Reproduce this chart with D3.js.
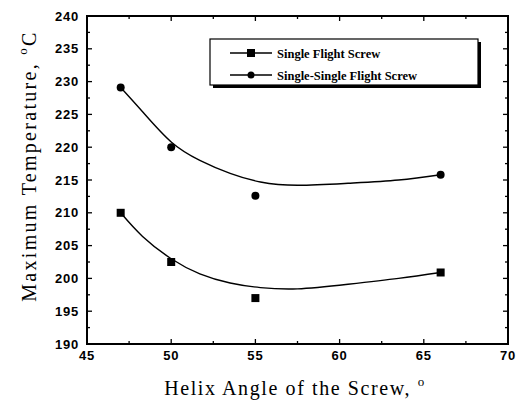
<!DOCTYPE html>
<meta charset="utf-8">
<style>
  body { margin: 0; background: #fff; }
  .tick-label { font-family: "Liberation Sans", Arial, sans-serif; font-weight: bold; font-size: 13px; letter-spacing: 0.8px; fill: #000; }
  .axis-title { font-family: "Liberation Serif", "Times New Roman", serif; font-size: 20px; fill: #000; }
  .legend-text { font-family: "Liberation Serif", "Times New Roman", serif; font-weight: bold; font-size: 12.5px; fill: #000; }
  .fit { fill: none; stroke: #000; stroke-width: 1.4; }
</style>
<body></body>
<script src="https://d3js.org/d3.v7.min.js"></script>
<script>
// measured points
var angles = [47, 50, 55, 66];
var singleFlight = [210, 202.5, 197, 200.9];
var singleSingle = [229.1, 220, 212.6, 215.8];

// fitted curves
var fitX = [47, 48.3, 50, 51.7, 53.5, 55.3, 57.5, 60.5, 63.5, 66];
var fitSingle = [210.0, 206.4, 203.0, 200.7, 199.3, 198.6, 198.4, 199.1, 200.0, 200.9];
var fitSingleSingle = [229.1, 225.4, 220.8, 218.0, 216.0, 214.7, 214.2, 214.5, 215.0, 215.8];

var xTicks = [45, 50, 55, 60, 65, 70];
var yTicks = [190, 195, 200, 205, 210, 215, 220, 225, 230, 235, 240];
var seriesNames = ["Single Flight Screw", "Single-Single Flight Screw"];

var W = 518, H = 401;
var pLeft = 87, pRight = 508, pTop = 16, pBottom = 344;

var svg = d3.select("body").append("svg")
    .attr("width", W)
    .attr("height", H);

var x = d3.scaleLinear().domain([45, 70]).range([pLeft, pRight]);
var y = d3.scaleLinear().domain([190, 240]).range([pBottom, pTop]);

// frame
svg.append("rect")
    .attr("x", pLeft).attr("y", pTop)
    .attr("width", pRight - pLeft).attr("height", pBottom - pTop)
    .attr("fill", "none").attr("stroke", "#000").attr("stroke-width", 2);

// ticks (inward, all four sides)
var ticks = svg.append("g").attr("stroke", "#000").attr("stroke-width", 1.3);
d3.range(45, 70.01, 2.5).forEach(function (v) {
    var len = v % 5 === 0 ? 5 : 3;
    ticks.append("line").attr("x1", x(v)).attr("x2", x(v)).attr("y1", pBottom).attr("y2", pBottom - len);
    ticks.append("line").attr("x1", x(v)).attr("x2", x(v)).attr("y1", pTop).attr("y2", pTop + len);
});
d3.range(190, 240.01, 2.5).forEach(function (v) {
    var len = v % 5 === 0 ? 5 : 3;
    ticks.append("line").attr("x1", pLeft).attr("x2", pLeft + len).attr("y1", y(v)).attr("y2", y(v));
    ticks.append("line").attr("x1", pRight).attr("x2", pRight - len).attr("y1", y(v)).attr("y2", y(v));
});

// tick labels
svg.selectAll(".xl").data(xTicks).enter().append("text")
    .attr("class", "tick-label")
    .attr("x", function (d) { return x(d); })
    .attr("y", pBottom + 16)
    .attr("text-anchor", "middle")
    .text(function (d) { return d; });

svg.selectAll(".yl").data(yTicks).enter().append("text")
    .attr("class", "tick-label")
    .attr("x", pLeft - 8)
    .attr("y", function (d) { return y(d) + 4.5; })
    .attr("text-anchor", "end")
    .text(function (d) { return d; });

// axis titles
var xt = svg.append("text").attr("class", "axis-title")
    .attr("x", 295).attr("y", 395)
    .attr("letter-spacing", 1.6)
    .attr("text-anchor", "middle");
xt.append("tspan").text("Helix Angle of the Screw, ");
xt.append("tspan").attr("dy", -9).attr("font-size", 13).text("o");

var yt = svg.append("text").attr("class", "axis-title")
    .attr("transform", "translate(36,166) rotate(-90)")
    .attr("letter-spacing", 2.3)
    .attr("text-anchor", "middle");
yt.append("tspan").text("Maximum Temperature, ");
yt.append("tspan").attr("dy", -9).attr("font-size", 13).text("o");
yt.append("tspan").attr("dy", 9).text("C");

// fitted curves
var line = d3.line()
    .x(function (d) { return x(d[0]); })
    .y(function (d) { return y(d[1]); })
    .curve(d3.curveNatural);

svg.append("path").attr("class", "fit")
    .attr("d", line(d3.zip(fitX, fitSingle)));
svg.append("path").attr("class", "fit")
    .attr("d", line(d3.zip(fitX, fitSingleSingle)));

// markers
svg.selectAll(".sq").data(d3.zip(angles, singleFlight)).enter().append("rect")
    .attr("x", function (d) { return x(d[0]) - 4; })
    .attr("y", function (d) { return y(d[1]) - 4; })
    .attr("width", 8).attr("height", 8)
    .attr("fill", "#000");

svg.selectAll(".ci").data(d3.zip(angles, singleSingle)).enter().append("circle")
    .attr("cx", function (d) { return x(d[0]); })
    .attr("cy", function (d) { return y(d[1]); })
    .attr("r", 4)
    .attr("fill", "#000");

// legend
var lg = svg.append("g");
lg.append("rect").attr("x", 213).attr("y", 42).attr("width", 268).attr("height", 46).attr("fill", "#000");
lg.append("rect").attr("x", 210).attr("y", 39).attr("width", 268).attr("height", 46)
    .attr("fill", "#fff").attr("stroke", "#000").attr("stroke-width", 1.2);

seriesNames.forEach(function (name, i) {
    var cy = 53 + i * 22;
    lg.append("line").attr("x1", 230).attr("x2", 272).attr("y1", cy).attr("y2", cy)
        .attr("stroke", "#000").attr("stroke-width", 1.3);
    if (i === 0) {
        lg.append("rect").attr("x", 247).attr("y", cy - 4).attr("width", 8).attr("height", 8).attr("fill", "#000");
    } else {
        lg.append("circle").attr("cx", 251).attr("cy", cy).attr("r", 3.5).attr("fill", "#000");
    }
    lg.append("text").attr("class", "legend-text")
        .attr("x", 277).attr("y", cy + 4.5)
        .text(name);
});
</script>
